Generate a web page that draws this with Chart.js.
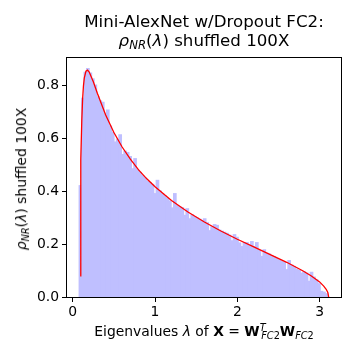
<!DOCTYPE html>
<html>
<head>
<meta charset="utf-8">
<script src="https://cdn.jsdelivr.net/npm/chart.js@4/dist/chart.umd.min.js"></script>
<style>
  html, body { margin: 0; padding: 0; background: #fff; }
  #wrap { position: relative; width: 360px; height: 360px; font-family: 'DejaVu Sans', sans-serif; color: #000; }
  #chart { position: absolute; left: 0; top: 0; }
  .lbl { position: absolute; white-space: nowrap; line-height: 1; }
  .sub { font-size: 70%; position: relative; top: 0.28em; }
  .sup { font-size: 70%; position: relative; top: -0.55em; }
  #title { left: 0; width: 408px; top: 12px; font-size: 16.67px; text-align: center; line-height: 19px; }
  #ylabel { font-size: 13.9px; left: 22px; top: 179px; transform: translate(-50%, -50%) rotate(-90deg); }
  #xlabel { font-size: 13.9px; left: 204px; top: 325px; transform: translateX(-50%); }
</style>
</head>
<body>
<div id="wrap">
  <canvas id="chart" width="360" height="360"></canvas>
  <div class="lbl" id="title">Mini-AlexNet w/Dropout FC2:<br><i>ρ</i><span class="sub"><i>NR</i></span>(<i>λ</i>) shuffled 100X</div>
  <div class="lbl" id="ylabel"><i>ρ</i><span class="sub"><i>NR</i></span>(<i>λ</i>) shuffled 100X</div>
  <div class="lbl" id="xlabel">Eigenvalues <i>λ</i> of <b>X</b> = <b>W</b><span class="sup"><i>T</i></span><span class="sub" style="margin-left:-0.45em"><i>FC</i>2</span><b>W</b><span class="sub"><i>FC</i>2</span></div>
</div>
<script>
// histogram of eigenvalues (density), 100 bins
const binLeft = 0.078;
const binWidth = 0.0302;
const binDensity = [
  0.42, 0.75, 0.848, 0.862, 0.845, 0.823, 0.80, 0.755, 0.74, 0.735,
  0.69, 0.705, 0.645, 0.62, 0.585, 0.595, 0.612, 0.537, 0.55, 0.545,
  0.53, 0.484, 0.522, 0.48, 0.47, 0.458, 0.45, 0.437, 0.432, 0.425,
  0.39, 0.44, 0.40, 0.39, 0.382, 0.372, 0.362, 0.336, 0.39, 0.345,
  0.34, 0.337, 0.308, 0.333, 0.295, 0.31, 0.303, 0.298, 0.293, 0.288,
  0.295, 0.28, 0.25, 0.265, 0.273, 0.27, 0.252, 0.248, 0.244, 0.24,
  0.233, 0.212, 0.235, 0.225, 0.204, 0.19, 0.205, 0.205, 0.195, 0.209,
  0.19, 0.205, 0.175, 0.153, 0.178, 0.165, 0.162, 0.155, 0.152, 0.145,
  0.14, 0.135, 0.13, 0.103, 0.137, 0.12, 0.115, 0.105, 0.10, 0.09,
  0.095, 0.09, 0.059, 0.093, 0.075, 0.065, 0.05, 0.021, 0.018, 0.012
];

// fitted density curve (red)
const curveX = [0.09, 0.095, 0.10, 0.11, 0.12, 0.13, 0.14, 0.16, 0.18, 0.20, 0.25, 0.30, 0.40, 0.50,
  0.60, 0.70, 0.80, 0.90, 1.0, 1.2, 1.4, 1.6, 1.8, 2.0, 2.2, 2.4, 2.6, 2.8, 2.9, 3.0, 3.05, 3.08, 3.10, 3.11];
const curveY = [0.08, 0.388, 0.52, 0.668, 0.749, 0.797, 0.826, 0.852, 0.856, 0.849, 0.812, 0.768, 0.687, 0.621,
  0.566, 0.520, 0.480, 0.446, 0.416, 0.364, 0.321, 0.283, 0.249, 0.218, 0.189, 0.160, 0.131, 0.098, 0.079, 0.057, 0.041, 0.029, 0.017, 0.0];

const xTicks = [0, 1, 2, 3];
const yTicks = [0, 0.2, 0.4, 0.6, 0.8];

const barPoints = binDensity.map((v, i) => ({ x: binLeft + binWidth * (i + 0.5), y: v }));
const curvePoints = curveX.map((x, i) => ({ x: x, y: curveY[i] }));

// full box around the plot area, like matplotlib spines
const frame = {
  id: 'frame',
  afterDatasetsDraw(chart) {
    const a = chart.chartArea;
    const ctx = chart.ctx;
    ctx.save();
    ctx.strokeStyle = '#000';
    ctx.lineWidth = 1;
    ctx.strokeRect(Math.round(a.left) - 0.5, Math.round(a.top) - 0.5,
      Math.round(a.right - a.left) + 1, Math.round(a.bottom - a.top) + 1);
    ctx.restore();
  }
};

const tickFont = { family: 'DejaVu Sans', size: 13.9 };

new Chart(document.getElementById('chart'), {
  type: 'bar',
  data: {
    datasets: [
      {
        type: 'line',
        data: curvePoints,
        borderColor: '#ff0000',
        borderWidth: 1.3,
        pointRadius: 0,
        fill: false,
        tension: 0,
        order: 0
      },
      {
        type: 'bar',
        data: barPoints,
        backgroundColor: '#bfbfff',
        borderColor: '#bfbfff',
        borderWidth: 0,
        inflateAmount: 0.6,
        barPercentage: 1,
        categoryPercentage: 1,
        order: 1
      }
    ]
  },
  options: {
    responsive: false,
    animation: false,
    devicePixelRatio: 1,
    layout: { padding: { left: 0, top: 58, right: 19, bottom: 0 } },
    plugins: { legend: { display: false }, tooltip: { enabled: false } },
    scales: {
      x: {
        type: 'linear',
        min: -0.07,
        max: 3.26,
        offset: false,
        afterBuildTicks: scale => { scale.ticks = xTicks.map(v => ({ value: v })); },
        afterFit: scale => { scale.height = 63; },
        grid: { offset: false, drawOnChartArea: false, drawTicks: true, tickLength: 5, color: '#000' },
        border: { display: false },
        ticks: { color: '#000', font: tickFont, padding: 2, maxRotation: 0, callback: v => String(v) }
      },
      y: {
        type: 'linear',
        min: 0,
        max: 0.902,
        afterBuildTicks: scale => { scale.ticks = yTicks.map(v => ({ value: v })); },
        afterFit: scale => { scale.width = 67; },
        grid: { drawOnChartArea: false, drawTicks: true, tickLength: 5, color: '#000' },
        border: { display: false },
        ticks: { color: '#000', font: tickFont, padding: 3, callback: v => v.toFixed(1) }
      }
    }
  },
  plugins: [frame]
});
</script>
</body>
</html>
